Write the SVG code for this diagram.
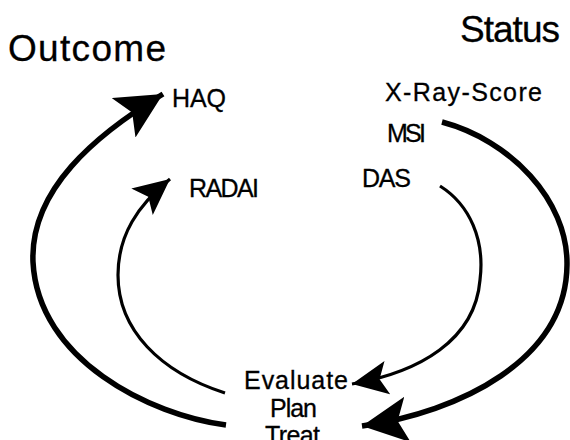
<svg xmlns="http://www.w3.org/2000/svg" width="570" height="440" viewBox="0 0 570 440">
<style>
text{font-family:"Liberation Sans",Arial,sans-serif;fill:#000;stroke:#000;stroke-width:0.3}
.title{font-size:37px}
.lbl{font-size:25px}
.c{fill:none;stroke:#000;stroke-linecap:butt}
.thick{stroke-width:5.5}
.thin{stroke-width:3.2}
</style>
<defs>
<marker id="bigHead" markerUnits="userSpaceOnUse" markerWidth="50" markerHeight="50" refX="46" refY="23" orient="auto">
<path d="M0,0 L46,23 L0,46 L10,23 Z" fill="#000"/>
</marker>
<marker id="smallHead" markerUnits="userSpaceOnUse" markerWidth="40" markerHeight="38" refX="36" refY="17" orient="auto">
<path d="M0,0 L36,17 L0,34 L8,17 Z" fill="#000"/>
</marker>
</defs>
<rect width="570" height="440" fill="#fff"/>
<g id="outcome"><text class="title" x="8" y="61" textLength="158">Outcome</text></g>
<g id="status"><text class="title" x="460" y="42" textLength="100">Status</text></g>
<g id="haq"><text class="lbl" x="172" y="107" textLength="54">HAQ</text></g>
<g id="radai"><text class="lbl" x="189" y="197" textLength="70">RADAI</text></g>
<g id="xray"><text class="lbl" x="385" y="101" textLength="157">X-Ray-Score</text></g>
<g id="msi"><text class="lbl" x="387" y="142" textLength="39">MSI</text></g>
<g id="das"><text class="lbl" x="362" y="187" textLength="49">DAS</text></g>
<g id="ept">
<text class="lbl" x="244" y="389" textLength="104">Evaluate</text>
<text class="lbl" x="270" y="417" textLength="47">Plan</text>
<text class="lbl" x="265" y="444" textLength="55">Treat</text>
</g>
<g id="connectors">
<path class="c thick" d="M226,425 C150,415 38,360 33,262 C30,190 95,135 163,94" marker-end="url(#bigHead)"/>
<path class="c thin" d="M225,393 C160,372 118,330 118,275 C118,235 138,205 170,179" marker-end="url(#smallHead)"/>
<path class="c thin" d="M440,186 C470,205 485,240 480,280 C475,340 420,372 352,384" marker-end="url(#smallHead)"/>
<path class="c thick" d="M442,122 C510,140 568,200 567,265 C566,360 460,412 362,426" marker-end="url(#bigHead)"/>
</g>
</svg>
